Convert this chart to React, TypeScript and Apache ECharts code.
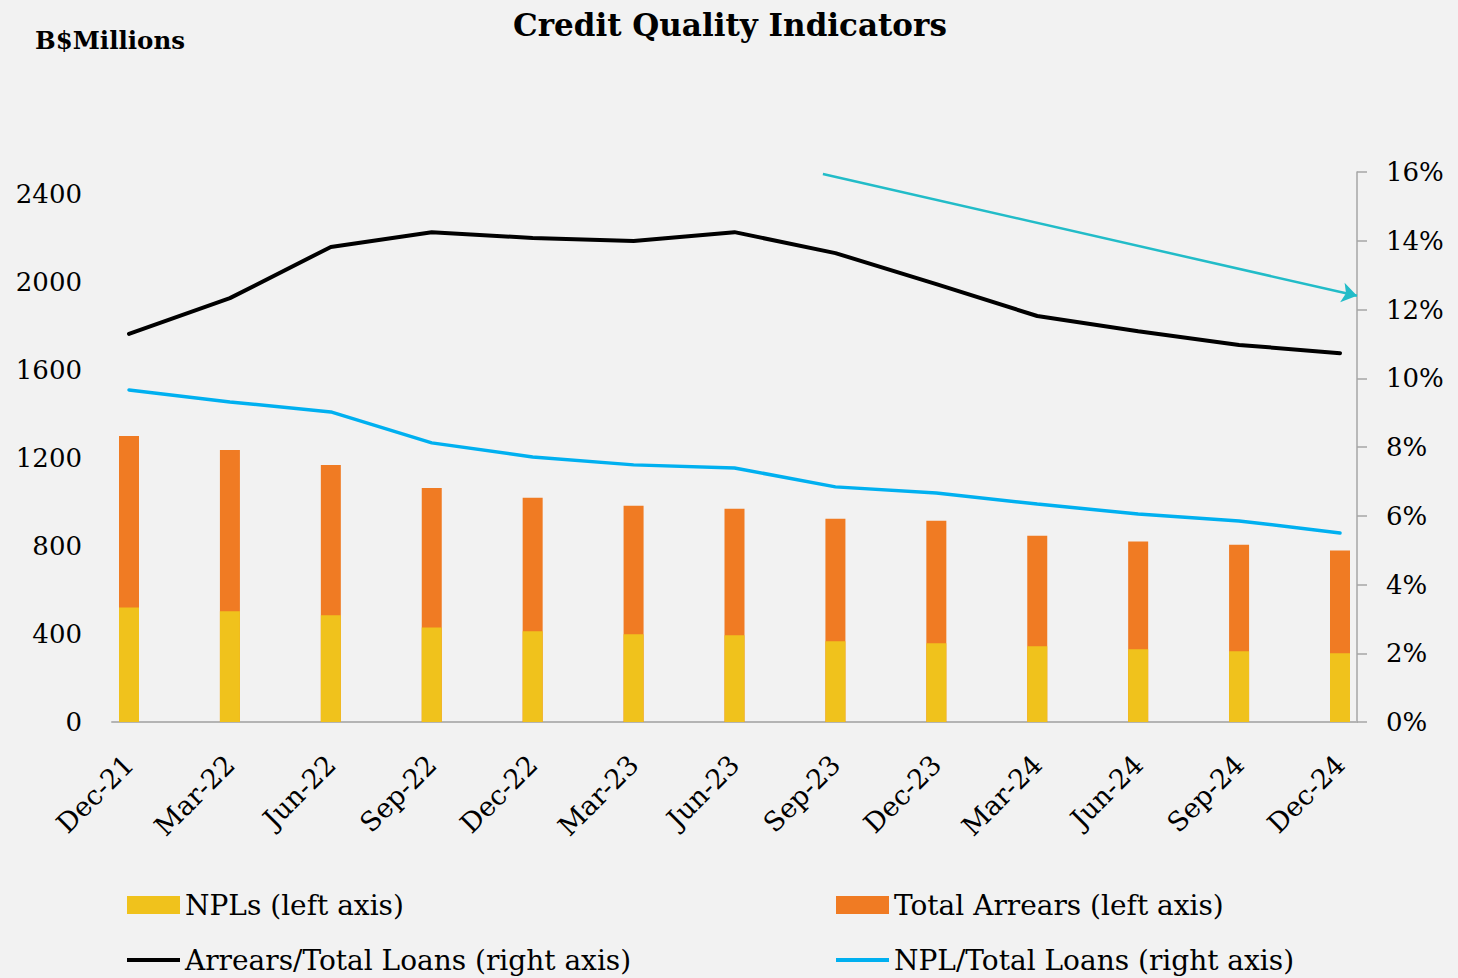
import React, { useEffect, useRef } from 'react';
import * as echarts from 'echarts';

const categories = ['Dec-21', 'Mar-22', 'Jun-22', 'Sep-22', 'Dec-22', 'Mar-23', 'Jun-23', 'Sep-23', 'Dec-23', 'Mar-24', 'Jun-24', 'Sep-24', 'Dec-24'];
const npls = [521, 503, 485, 430, 412, 399, 394, 367, 358, 344, 331, 322, 312];
const totalArrears = [1300, 1236, 1168, 1064, 1019, 983, 969, 924, 915, 847, 820, 806, 779];
const arrearsRatio = [11.29, 12.33, 13.82, 14.25, 14.08, 13.99, 14.25, 13.64, 12.74, 11.81, 11.37, 10.97, 10.73];
const nplRatio = [9.66, 9.31, 9.02, 8.12, 7.71, 7.48, 7.39, 6.84, 6.66, 6.34, 6.05, 5.85, 5.5];
// trend arrow: x as fraction of plot width, y in % on the right axis
const trendStart = [0.571, 15.94];
const trendEnd = [1.0, 12.4];

const FONT = 'DejaVu Serif';

export default function App() {
  const ref = useRef<HTMLDivElement>(null);
  useEffect(() => {
    document.body.style.margin = '0';
    document.body.style.background = '#f2f2f2';
    const chart = echarts.init(ref.current!, null, { renderer: 'svg' });
    const legendBase = {
      itemWidth: 53,
      itemHeight: 18,
      padding: 0,
      textStyle: { fontFamily: FONT, fontSize: 28, color: '#000' },
      selectedMode: false,
    };
    chart.setOption({
      animation: false,
      backgroundColor: '#f2f2f2',
      textStyle: { fontFamily: FONT },
      title: [
        {
          text: 'Credit Quality Indicators',
          left: 513,
          top: 9,
          padding: 0,
          textStyle: { fontFamily: FONT, fontWeight: 'bold', fontSize: 31, color: '#000' },
        },
        {
          text: 'B$Millions',
          left: 35,
          top: 28,
          padding: 0,
          textStyle: { fontFamily: FONT, fontWeight: 'bold', fontSize: 24.5, color: '#000' },
        },
      ],
      legend: [
        { ...legendBase, data: [{ name: 'NPLs (left axis)', icon: 'rect' }], left: 127, top: 891 },
        { ...legendBase, data: [{ name: 'Total Arrears (left axis)', icon: 'rect' }], left: 836, top: 891 },
        { ...legendBase, itemHeight: 4, data: [{ name: 'Arrears/Total Loans (right axis)', icon: 'rect' }], left: 127, top: 946 },
        { ...legendBase, itemHeight: 4, data: [{ name: 'NPL/Total Loans (right axis)', icon: 'rect' }], left: 836, top: 946 },
      ],
      grid: [
        { left: 129, right: 1458 - 1340, top: 172, bottom: 978 - 722 },
        { left: 112, right: 1458 - 1357, top: 172, bottom: 978 - 722 },
      ],
      xAxis: [
        {
          type: 'category',
          gridIndex: 0,
          data: categories,
          boundaryGap: false,
          axisLine: { show: false },
          axisTick: { show: false },
          axisLabel: {
            rotate: 45,
            margin: 38,
            fontFamily: FONT,
            fontSize: 27,
            color: '#000',
            interval: 0,
          },
        },
        {
          type: 'value',
          gridIndex: 1,
          min: 0,
          max: 1,
          axisLine: { show: true, onZero: false, lineStyle: { color: '#b4b4b4', width: 2 } },
          axisTick: { show: false },
          axisLabel: { show: false },
          splitLine: { show: false },
        },
      ],
      yAxis: [
        {
          type: 'value',
          gridIndex: 0,
          position: 'left',
          min: 0,
          max: 2500,
          interval: 400,
          axisLine: { show: false },
          axisTick: { show: false },
          splitLine: { show: false },
          axisLabel: {
            showMaxLabel: false,
            margin: 47,
            formatter: (v: number) => String(v),
            fontFamily: FONT,
            fontSize: 26,
            color: '#000',
          },
        },
        {
          type: 'value',
          gridIndex: 0,
          position: 'right',
          min: 0,
          max: 16,
          interval: 2,
          show: false,
        },
        {
          type: 'value',
          gridIndex: 1,
          position: 'right',
          min: 0,
          max: 16,
          interval: 2,
          axisLine: { show: true, onZero: false, lineStyle: { color: '#a6a6a6', width: 1.5 } },
          axisTick: { show: true, inside: false, length: 10, lineStyle: { color: '#a6a6a6', width: 1.5 } },
          splitLine: { show: false },
          axisLabel: {
            margin: 29,
            formatter: '{value}%',
            fontFamily: FONT,
            fontSize: 26,
            color: '#000',
          },
        },
      ],
      series: [
        {
          name: 'Total Arrears (left axis)',
          type: 'bar',
          xAxisIndex: 0,
          yAxisIndex: 0,
          data: totalArrears,
          barWidth: 20,
          barGap: '-100%',
          itemStyle: { color: '#f07b23' },
          z: 2,
        },
        {
          name: 'NPLs (left axis)',
          type: 'bar',
          xAxisIndex: 0,
          yAxisIndex: 0,
          data: npls,
          barWidth: 20,
          barGap: '-100%',
          itemStyle: { color: '#f0c21c' },
          z: 3,
        },
        {
          name: 'Arrears/Total Loans (right axis)',
          type: 'line',
          xAxisIndex: 0,
          yAxisIndex: 1,
          data: arrearsRatio,
          symbol: 'none',
          lineStyle: { color: '#000', width: 4, cap: 'round' },
          itemStyle: { color: '#000' },
          z: 4,
        },
        {
          name: 'NPL/Total Loans (right axis)',
          type: 'line',
          xAxisIndex: 0,
          yAxisIndex: 1,
          data: nplRatio,
          symbol: 'none',
          lineStyle: { color: '#00b0f0', width: 3.5, cap: 'round' },
          itemStyle: { color: '#00b0f0' },
          z: 4,
        },
        {
          type: 'lines',
          coordinateSystem: 'cartesian2d',
          xAxisIndex: 1,
          yAxisIndex: 2,
          symbol: ['none', 'arrow'],
          symbolSize: 15,
          silent: true,
          lineStyle: { color: '#22bcc8', width: 2.5, opacity: 1, curveness: 0 },
          itemStyle: { color: '#22bcc8' },
          data: [{ coords: [trendStart, trendEnd] }],
          z: 5,
        },
      ],
    });
    return () => chart.dispose();
  }, []);
  return <div ref={ref} style={{ width: 1458, height: 978 }} />;
}
